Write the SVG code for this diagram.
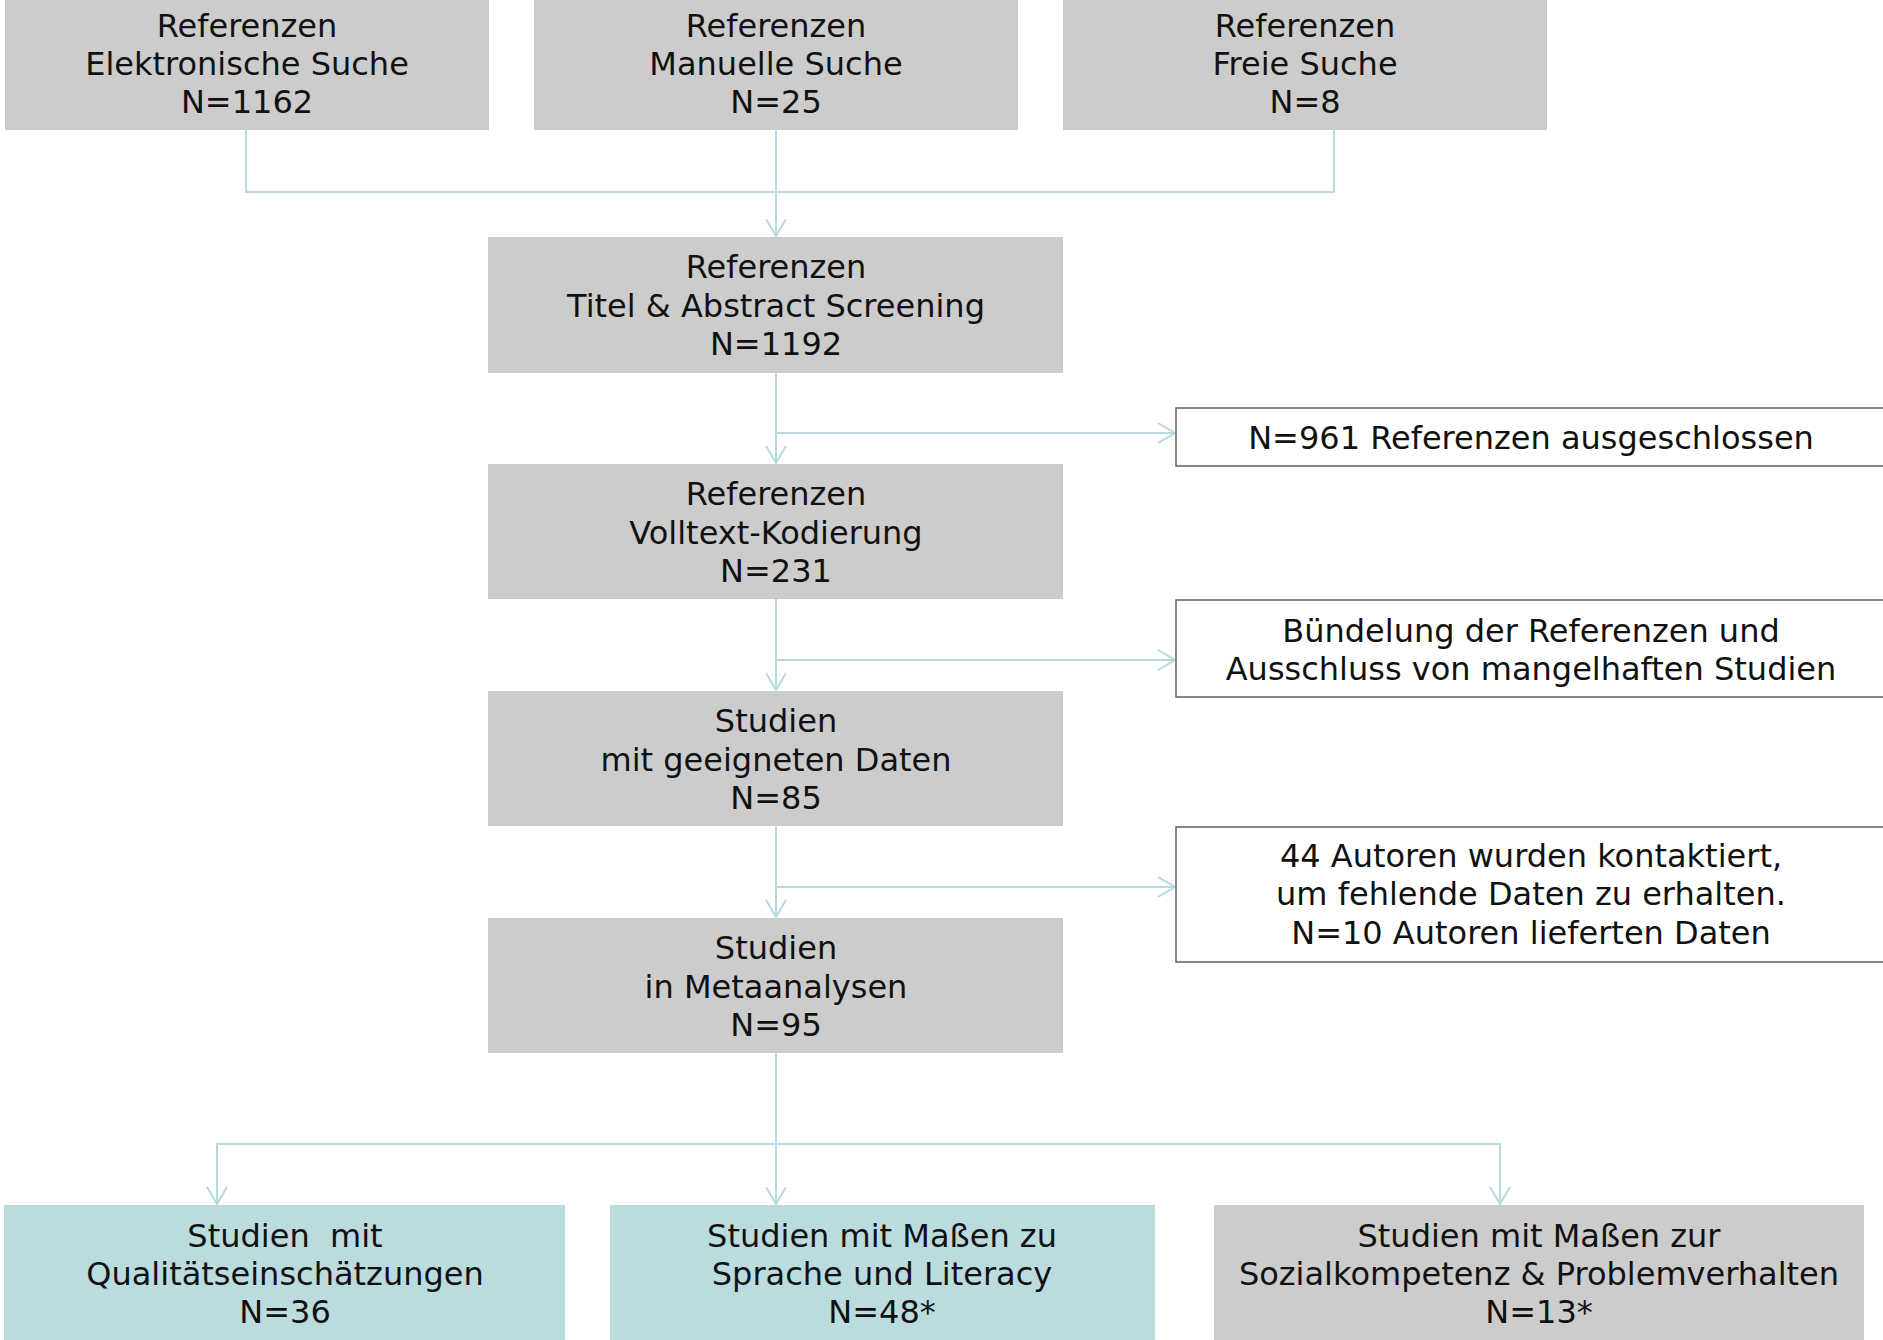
<svg xmlns="http://www.w3.org/2000/svg" width="1883" height="1340" viewBox="0 0 1883 1340">
<style>
.g{fill:#cccccc}
.t{fill:#badcdf}
.w{fill:#ffffff;stroke:#5f5f5f;stroke-width:1.5}
text{font-family:"DejaVu Sans","Verdana",sans-serif;font-size:32px;fill:#111;text-anchor:middle}
.c{fill:none;stroke:#b5dadf;stroke-width:2}
</style>
<defs>
<marker id="a" markerUnits="userSpaceOnUse" markerWidth="40" markerHeight="40" viewBox="-20 -20 40 40" refX="0" refY="0" orient="auto">
<path d="M-17,-10 L0,0 L-17,10" fill="none" stroke="#b5dadf" stroke-width="2"/>
</marker>
</defs>
<g id="connectors">
<path class="c" d="M246,130 V192 H1334 V130"/>
<path class="c" d="M776,130 V236" marker-end="url(#a)"/>
<path class="c" d="M776,373 V463" marker-end="url(#a)"/>
<path class="c" d="M776,433 H1175" marker-end="url(#a)"/>
<path class="c" d="M776,599 V690" marker-end="url(#a)"/>
<path class="c" d="M776,660 H1175" marker-end="url(#a)"/>
<path class="c" d="M776,826 V917" marker-end="url(#a)"/>
<path class="c" d="M776,887 H1175" marker-end="url(#a)"/>
<path class="c" d="M776,1053 V1204" marker-end="url(#a)"/>
<path class="c" d="M217,1204 V1144 H1500 V1204" marker-end="url(#a)"/>
<path class="c" d="M217,1144 V1204" marker-end="url(#a)"/>
</g>
<g id="n1"><rect class="g" x="5" y="-5" width="484" height="135"/>
<text x="247" y="37">Referenzen</text><text x="247" y="75">Elektronische Suche</text><text x="247" y="113">N=1162</text></g>
<g id="n2"><rect class="g" x="534" y="-5" width="484" height="135"/>
<text x="776" y="37">Referenzen</text><text x="776" y="75">Manuelle Suche</text><text x="776" y="113">N=25</text></g>
<g id="n3"><rect class="g" x="1063" y="-5" width="484" height="135"/>
<text x="1305" y="37">Referenzen</text><text x="1305" y="75">Freie Suche</text><text x="1305" y="113">N=8</text></g>
<g id="n4"><rect class="g" x="488" y="237" width="575" height="136"/>
<text x="776" y="278">Referenzen</text><text x="776" y="317">Titel &amp; Abstract Screening</text><text x="776" y="355">N=1192</text></g>
<g id="n5"><rect class="w" x="1176" y="408" width="720" height="58"/>
<text x="1531" y="449">N=961 Referenzen ausgeschlossen</text></g>
<g id="n6"><rect class="g" x="488" y="464" width="575" height="135"/>
<text x="776" y="505">Referenzen</text><text x="776" y="544">Volltext-Kodierung</text><text x="776" y="582">N=231</text></g>
<g id="n7"><rect class="w" x="1176" y="600" width="720" height="97"/>
<text x="1531" y="642">Bündelung der Referenzen und</text><text x="1531" y="680">Ausschluss von mangelhaften Studien</text></g>
<g id="n8"><rect class="g" x="488" y="691" width="575" height="135"/>
<text x="776" y="732">Studien</text><text x="776" y="771">mit geeigneten Daten</text><text x="776" y="809">N=85</text></g>
<g id="n9"><rect class="w" x="1176" y="827" width="720" height="135"/>
<text x="1531" y="867">44 Autoren wurden kontaktiert,</text><text x="1531" y="905">um fehlende Daten zu erhalten.</text><text x="1531" y="944">N=10 Autoren lieferten Daten</text></g>
<g id="n10"><rect class="g" x="488" y="918" width="575" height="135"/>
<text x="776" y="959">Studien</text><text x="776" y="998">in Metaanalysen</text><text x="776" y="1036">N=95</text></g>
<g id="n11"><rect class="t" x="4" y="1205" width="561" height="140"/>
<text x="285" y="1247" xml:space="preserve">Studien  mit</text><text x="285" y="1285">Qualitätseinschätzungen</text><text x="285" y="1323">N=36</text></g>
<g id="n12"><rect class="t" x="610" y="1205" width="545" height="140"/>
<text x="882" y="1247">Studien mit Maßen zu</text><text x="882" y="1285">Sprache und Literacy</text><text x="882" y="1323">N=48*</text></g>
<g id="n13"><rect class="g" x="1214" y="1205" width="650" height="140"/>
<text x="1539" y="1247">Studien mit Maßen zur</text><text x="1539" y="1285">Sozialkompetenz &amp; Problemverhalten</text><text x="1539" y="1323">N=13*</text></g>
</svg>
